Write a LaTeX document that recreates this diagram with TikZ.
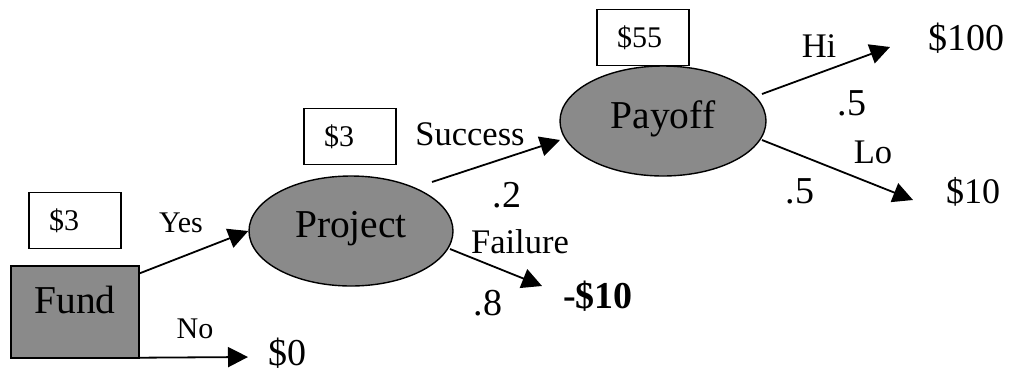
\documentclass[tikz,border=0pt]{standalone}
\usepackage{fontspec}
\setmainfont{Liberation Serif}
\usetikzlibrary{arrows.meta,shapes.geometric,calc}
\definecolor{nodegray}{RGB}{138,138,138}
\begin{document}
\begin{tikzpicture}[x=1pt,y=-1pt,
  arr/.style={line width=1.8pt,-{Triangle[length=20pt,width=20pt]}},
  chance/.style={ellipse,draw,line width=1.4pt,fill=nodegray,inner sep=0pt,
    font=\fontsize{39.5}{40}\selectfont,text height=27pt},
  decision/.style={rectangle,draw,line width=1.4pt,fill=nodegray,inner sep=0pt,
    font=\fontsize{39.5}{40}\selectfont,text height=27pt,text depth=25pt},
  valbox/.style={draw,line width=1.4pt,inner xsep=20pt,inner ysep=18pt,
    text width=52pt,align=left,text height=20pt,text depth=0pt,
    font=\fontsize{30}{30}\selectfont},
  txt/.style={inner sep=0pt,anchor=base},
  payoff/.style={txt,font=\fontsize{38}{38}\selectfont},
  prob/.style={txt,font=\fontsize{38}{38}\selectfont},
  lab/.style={txt,font=\fontsize{34.5}{35}\selectfont},
  small/.style={txt,font=\fontsize{30}{30}\selectfont}]
\useasboundingbox (0,0) rectangle (1011,373);

% decision node
\node[decision,minimum width=128pt,minimum height=92pt] (fund) at (75,312) {Fund};
% chance nodes
\node[chance,minimum width=204pt,minimum height=110pt,text depth=15pt] (project) at (351,231) {Project};
\node[chance,minimum width=206pt,minimum height=110pt,text depth=13pt] (payoff) at (663,121) {Payoff};

% value boxes
\node[valbox] (v1) at (75,220.5) {\$3};
\node[valbox] (v2) at (350,136.5) {\$3};
\node[valbox] (v3) at (643,37.5) {\$55};

% outcomes
\node[payoff] (zero) at (287,365) {\$0};
\node[payoff,font=\bfseries\fontsize{38}{38}\selectfont] (m10) at (598,308) {-\$10};
\node[payoff] (h100) at (966,50) {\$100};
\node[payoff,font=\fontsize{36}{36}\selectfont] (l10) at (973,203) {\$10};

% branch labels
\node[small] (yes) at (181,232) {Yes};
\node[small] (no) at (195,338) {No};
\node[lab] (succ) at (470,145) {Success};
\node[prob] (p2) at (507,207) {.2};
\node[lab] (fail) at (520,253) {Failure};
\node[prob] (p8) at (488,315) {.8};
\node[lab] (hi) at (819,57) {Hi};
\node[prob] (p5a) at (852,115) {.5};
\node[lab] (lo) at (873,163) {Lo};
\node[prob] (p5b) at (800,203) {.5};

% connectors
\draw[arr] ($(fund.north east)+(0,8)$) -- (project.west);
\draw[arr] ($(fund.south east)+(0,-1)$) -- ($(zero.base)+(-39,-8)$);
\draw[arr] ($(project.center)+(81,-49)$) -- ($(payoff.center)+(-103,19)$);
\draw[arr] ($(project.center)+(99,18)$) -- ($(m10.base)+(-56,-22)$);
\draw[arr] ($(payoff.center)+(99,-27)$) -- ($(h100.base)+(-76,-3)$);
\draw[arr] ($(payoff.center)+(99,19)$) -- ($(l10.base)+(-60,-3)$);
\end{tikzpicture}
\end{document}
